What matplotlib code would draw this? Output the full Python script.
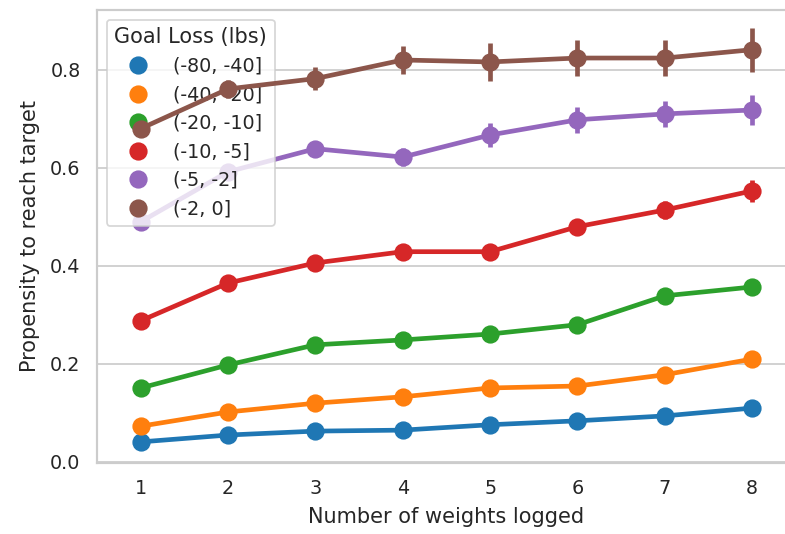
import numpy as np
import matplotlib.pyplot as plt
import seaborn as sns

weights_logged = ["1", "2", "3", "4", "5", "6", "7", "8"]
goal_loss = ["(-80, -40]", "(-40, -20]", "(-20, -10]", "(-10, -5]", "(-5, -2]", "(-2, 0]"]

# mean propensity per goal-loss bin
prop_80_40 = [0.041, 0.055, 0.063, 0.065, 0.076, 0.084, 0.094, 0.110]
prop_40_20 = [0.073, 0.102, 0.120, 0.133, 0.151, 0.155, 0.178, 0.210]
prop_20_10 = [0.151, 0.198, 0.239, 0.249, 0.261, 0.280, 0.339, 0.357]
prop_10_5 = [0.288, 0.365, 0.406, 0.429, 0.429, 0.480, 0.514, 0.553]
prop_5_2 = [0.490, 0.592, 0.639, 0.622, 0.667, 0.698, 0.710, 0.718]
prop_2_0 = [0.680, 0.761, 0.782, 0.820, 0.816, 0.824, 0.824, 0.841]

# half-width of the confidence intervals
ci_80_40 = [0.005, 0.005, 0.005, 0.006, 0.006, 0.007, 0.008, 0.010]
ci_40_20 = [0.006, 0.006, 0.007, 0.008, 0.008, 0.009, 0.010, 0.013]
ci_20_10 = [0.007, 0.008, 0.009, 0.010, 0.010, 0.012, 0.013, 0.015]
ci_10_5 = [0.009, 0.010, 0.011, 0.012, 0.013, 0.016, 0.018, 0.022]
ci_5_2 = [0.012, 0.013, 0.013, 0.018, 0.024, 0.027, 0.027, 0.031]
ci_2_0 = [0.016, 0.019, 0.024, 0.029, 0.038, 0.037, 0.036, 0.045]

means = [prop_80_40, prop_40_20, prop_20_10, prop_10_5, prop_5_2, prop_2_0]
cis = [ci_80_40, ci_40_20, ci_20_10, ci_10_5, ci_5_2, ci_2_0]

sns.set_theme(style="whitegrid")
colors = sns.color_palette("tab10", len(goal_loss))

fig = plt.figure(figsize=(6.28, 4.272), dpi=125)
ax = fig.add_axes([0.1236, 0.1330, 0.8902, 0.8483])

x = np.arange(len(weights_logged))
lw = 2.7
for i in range(len(goal_loss)):
    z = 10 if i == len(goal_loss) - 1 else 2  # brown series sits above the legend
    m = np.array(means[i])
    c = np.array(cis[i])
    ax.vlines(x, m - c, m + c, color=colors[i], linewidth=lw, zorder=z)
    ax.plot(x, m, color=colors[i], linewidth=lw, marker="o", markersize=9.5,
            label=goal_loss[i], zorder=z)

ax.set_xticks(x)
ax.set_xticklabels(weights_logged)
ax.set_xlim(-0.5, len(x) - 0.5)
ax.set_ylim(-0.002, 0.922)
ax.set_yticks([0.0, 0.2, 0.4, 0.6, 0.8])
ax.xaxis.grid(False)
ax.set_xlabel("Number of weights logged", labelpad=5)
ax.set_ylabel("Propensity to reach target", labelpad=6)

handles = [plt.Line2D([], [], linestyle="", marker="o", markersize=9.5, color=colors[i])
           for i in range(len(goal_loss))]
leg = ax.legend(handles, goal_loss, title="Goal Loss (lbs)", loc="upper left")
leg.set_zorder(5)

fig.savefig("out.png", dpi=125)
